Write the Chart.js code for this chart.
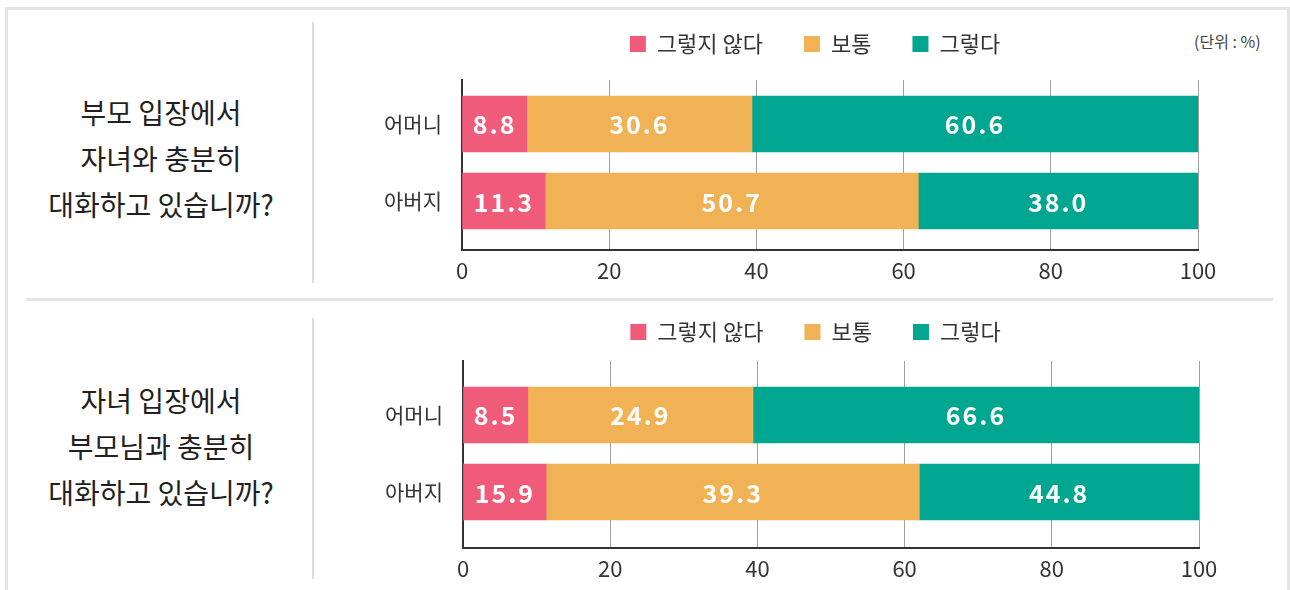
<!DOCTYPE html>
<html>
<head>
<meta charset="utf-8">
<script src="https://cdn.jsdelivr.net/npm/chart.js@4.4.1/dist/chart.umd.min.js"></script>
<style>
  body { margin: 0; background: #fff; width: 1290px; height: 590px; overflow: hidden; position: relative;
         font-family: "Noto Sans CJK KR", sans-serif; }
  canvas { position: absolute; }
  .frame { position: absolute; left: 5px; top: 7px; width: 1285px; height: 640px; border: 3px solid #e4e4e4; box-sizing: border-box; }
  .sep { position: absolute; left: 26px; top: 298px; width: 1247px; height: 3px; background: #e4e4e4; }
  .vline { position: absolute; left: 312px; width: 2px; height: 261px; background: #dcdcdc; }
  .q { position: absolute; left: 30px; width: 262px; text-align: center; font-size: 28px; line-height: 46px; color: #231f20; }
  .unit { position: absolute; left: 1194px; top: 31px; font-size: 16px; line-height: 20px; color: #444; }
</style>
</head>
<body>
<div class="frame"></div>
<div class="sep"></div>
<div class="vline" style="top:22px"></div>
<div class="vline" style="top:318px"></div>
<div class="q" style="top:89px">부모 입장에서<br>자녀와 충분히<br>대화하고 있습니까?</div>
<div class="q" style="top:377px">자녀 입장에서<br>부모님과 충분히<br>대화하고 있습니까?</div>
<div class="unit">(단위 : %)</div>
<canvas id="chart1" width="930" height="298" style="left:330px;top:-8px"></canvas>
<canvas id="chart2" width="931" height="308" style="left:330px;top:280px"></canvas>
<script>
// data
const categories = ['어머니', '아버지'];
const seriesNames = ['그렇지 않다', '보통', '그렇다'];
const seriesColors = ['#f05b7a', '#f1b256', '#00a690'];
const parentNo = [8.8, 11.3];
const parentSo = [30.6, 50.7];
const parentYes = [60.6, 38.0];
// child panel: printed values
const childNo = [8.5, 15.9];
const childSo = [24.9, 39.3];
const childYes = [66.6, 44.8];
// child panel: segment lengths as drawn in the source figure (same as the parent panel there)
const childBarNo = [8.8, 11.3];
const childBarSo = [30.6, 50.7];
const childBarYes = [60.6, 38.0];
const xTicks = [0, 20, 40, 60, 80, 100];

Chart.defaults.font.family = '"Noto Sans CJK KR", sans-serif';
Chart.defaults.color = '#333';

// white value labels in the middle of each segment
const barLabels = {
  id: 'barLabels',
  afterDatasetsDraw(chart) {
    const ctx = chart.ctx;
    ctx.save();
    ctx.font = 'bold 25px "Noto Sans CJK KR"';
    ctx.letterSpacing = '2px';
    ctx.fillStyle = '#fff';
    ctx.textAlign = 'center';
    ctx.textBaseline = 'middle';
    chart.data.datasets.forEach((ds, i) => {
      chart.getDatasetMeta(i).data.forEach((bar, j) => {
        ctx.fillText(ds.printed[j].toFixed(1), (bar.x + bar.base) / 2, bar.y + 1);
      });
    });
    ctx.restore();
  }
};

function makeChart(id, values, printed, yMin, yMax, legendH, shift) {
  return new Chart(document.getElementById(id), {
    type: 'bar',
    data: {
      datasets: values.map((vals, i) => ({
        label: seriesNames[i],
        data: vals.map((v, j) => ({ x: v, y: j })),
        printed: printed[i],
        backgroundColor: seriesColors[i],
        borderWidth: 0,
        barThickness: 56
      }))
    },
    options: {
      indexAxis: 'y',
      responsive: false,
      animation: false,
      layout: { padding: { left: 0, right: 62, top: 0, bottom: 0 } },
      plugins: {
        legend: {
          labels: { boxWidth: 16, boxHeight: 16, padding: 41, color: '#333', font: { size: 22 } }
        },
        tooltip: { enabled: false }
      },
      scales: {
        x: {
          min: 0, max: 100, stacked: true,
          afterBuildTicks: s => { s.ticks = xTicks.map(v => ({ value: v })); },
          afterFit: s => { s.height = 40; },
          grid: { color: '#a0a0a0', lineWidth: 1, drawTicks: false },
          border: { color: '#333', width: 2 },
          ticks: { padding: 7, color: '#333', font: { size: 22 } }
        },
        y: {
          type: 'linear', reverse: true, offset: false, min: yMin, max: yMax, stacked: true,
          afterBuildTicks: s => { s.ticks = categories.map((c, i) => ({ value: i })); },
          afterFit: s => { s.width = 132 + shift; },
          grid: { display: false, drawTicks: false },
          border: { display: true, color: '#333', width: 2 },
          ticks: { padding: 20, color: '#333', font: { size: 21 }, callback: v => categories[v] }
        }
      }
    },
    plugins: [barLabels, {
      // room under the legend, and legend centred a bit right of the canvas middle
      id: 'legendPlace',
      beforeInit(chart) {
        const fit = chart.legend.fit;
        chart.legend.fit = function () {
          fit.bind(chart.legend)();
          this.height = legendH;
        };
      },
      afterLayout(chart) {
        chart.legend.left += 51;
        chart.legend.right += 51;
      }
    }]
  });
}

makeChart('chart1', [parentNo, parentSo, parentYes], [parentNo, parentSo, parentYes], -0.571, 1.636, 88, 0);
makeChart('chart2', [childBarNo, childBarSo, childBarYes], [childNo, childSo, childYes], -0.701, 1.727, 81, 1);
</script>
</body>
</html>
